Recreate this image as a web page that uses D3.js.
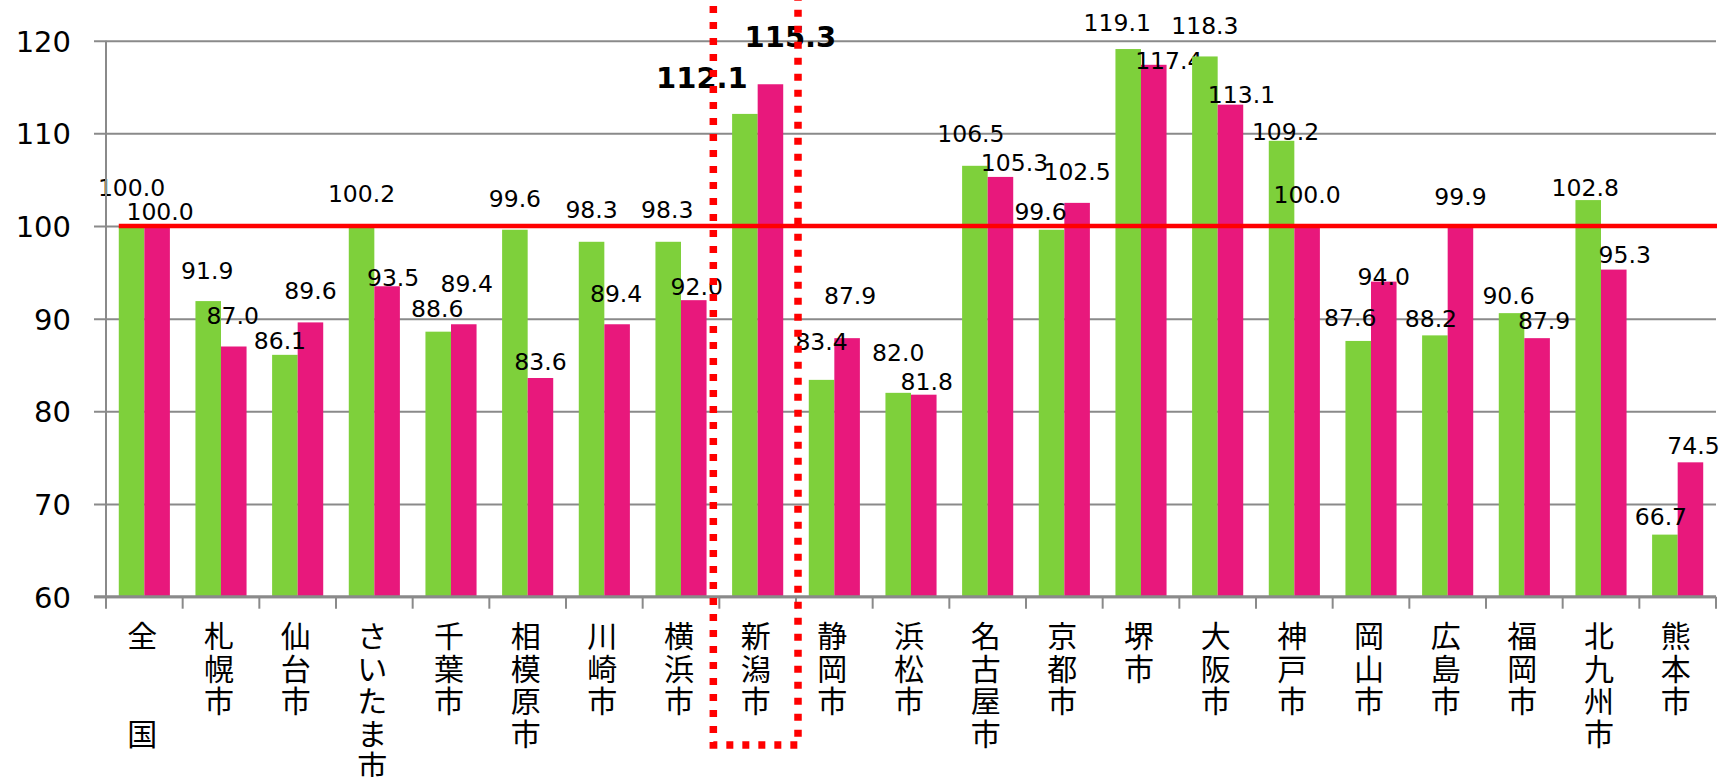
<!DOCTYPE html>
<html>
<head>
<meta charset="utf-8">
<script src="https://cdnjs.cloudflare.com/ajax/libs/d3/7.8.5/d3.min.js"></script>
<style>
body { margin: 0; background: #fff; }
</style>
</head>
<body>
<script>
// categories and values
var cities = ["全　　国","札幌市","仙台市","さいたま市","千葉市","相模原市","川崎市","横浜市","新潟市","静岡市","浜松市",
              "名古屋市","京都市","堺市","大阪市","神戸市","岡山市","広島市","福岡市","北九州市","熊本市"];
var greenVals = [100.0,91.9,86.1,100.2,88.6,99.6,98.3,98.3,112.1,83.4,82.0,106.5,99.6,119.1,118.3,109.2,87.6,88.2,90.6,102.8,66.7];
var pinkVals  = [100.0,87.0,89.6,93.5,89.4,83.6,89.4,92.0,115.3,87.9,81.8,105.3,102.5,117.4,113.1,100.0,94.0,99.9,87.9,95.3,74.5];
var yTicks = [60,70,80,90,100,110,120];
var refValue = 100;
var highlightCity = "新潟市";

// hand placed label nudges (px), as in the original sheet
var liftG  = [38,31,14,31,23,31,32,32,36,38,40,32,18,27,31,9,23,17,18,13,18];
var liftP  = [14,31,32,9,41,16,31,14,48,43,13,14,31,4,10,31,5,30,18,15,17];
var shiftG = [0,-1,-5,0,-1,0,0,-1,-43,0,0,-4,-11,-11,0,4,-8,-4,-3,-3,-4];
var shiftP = [3,-1,0,6,3,0,-1,3,20,3,3,14,0,15,11,0,0,0,7,11,3];

var W = 1729, H = 777;
var plotL = 106, plotR = 1716, plotT = 40.7, plotB = 596.7;
var green = "#7ed03b", pink = "#e8187c", gridCol = "#8a8a8a";
var numFont = "'DejaVu Sans', Verdana, sans-serif";
var jpFont = "'Noto Sans CJK JP', sans-serif";

var svg = d3.select("body").append("svg").attr("width", W).attr("height", H);

var x = d3.scaleBand().domain(cities).range([plotL, plotR]).padding(0);
var sub = d3.scaleBand().domain(["g","p"]).range([0, x.bandwidth()]).paddingInner(0).paddingOuter(0.5);
var y = d3.scaleLinear().domain([60,120]).range([plotB, plotT]);

// gridlines + y labels
var yAxis = svg.append("g").attr("transform", "translate(" + plotL + ",0)")
	.call(d3.axisLeft(y).tickValues(yTicks).tickSizeInner(-(plotR - plotL)).tickSizeOuter(0).tickPadding(35));
yAxis.select(".domain").remove();
yAxis.selectAll(".tick line").attr("x1", -12).attr("stroke", gridCol).attr("stroke-width", 2);
yAxis.selectAll(".tick text").attr("font-family", numFont).attr("font-size", 29).attr("fill", "#000")
	.attr("dy", "0.36em");

// bars
var rows = cities.map(function(c, i){ return {c: c, i: i, g: greenVals[i], p: pinkVals[i]}; });
var grp = svg.append("g").selectAll("g").data(rows).enter().append("g")
	.attr("transform", function(d){ return "translate(" + x(d.c) + ",0)"; });
grp.append("rect")
	.attr("x", sub("g")).attr("width", sub.bandwidth())
	.attr("y", function(d){ return y(d.g); })
	.attr("height", function(d){ return y(60) - y(d.g); })
	.attr("fill", green);
grp.append("rect")
	.attr("x", sub("p")).attr("width", sub.bandwidth())
	.attr("y", function(d){ return y(d.p); })
	.attr("height", function(d){ return y(60) - y(d.p); })
	.attr("fill", pink);

// axes lines
svg.append("line").attr("x1", plotL).attr("x2", plotL).attr("y1", plotT).attr("y2", plotB)
	.attr("stroke", gridCol).attr("stroke-width", 2);
svg.append("line").attr("x1", plotL - 12).attr("x2", plotR).attr("y1", plotB).attr("y2", plotB)
	.attr("stroke", gridCol).attr("stroke-width", 3);
var bounds = cities.map(function(c){ return x(c); }).concat([plotR]);
svg.append("g").selectAll("line").data(bounds).enter().append("line")
	.attr("x1", function(d){ return d; }).attr("x2", function(d){ return d; })
	.attr("y1", plotB).attr("y2", plotB + 12)
	.attr("stroke", gridCol).attr("stroke-width", 2);

// reference line at 100
svg.append("line")
	.attr("x1", x(cities[0]) + sub("g")).attr("x2", plotR + 1)
	.attr("y1", y(refValue)).attr("y2", y(refValue))
	.attr("stroke", "#ff0000").attr("stroke-width", 4.5);

// data labels
function isHi(d){ return d.c === highlightCity; }
grp.append("text")
	.attr("x", function(d){ return sub("g") + sub.bandwidth()/2 + shiftG[d.i]; })
	.attr("y", function(d){ return y(d.g) - liftG[d.i]; })
	.attr("dy", "0.36em").attr("text-anchor", "middle")
	.attr("font-family", numFont)
	.attr("font-size", function(d){ return isHi(d) ? 29 : 23.5; })
	.attr("font-weight", function(d){ return isHi(d) ? "bold" : "normal"; })
	.text(function(d){ return d.g.toFixed(1); });
grp.append("text")
	.attr("x", function(d){ return sub("p") + sub.bandwidth()/2 + shiftP[d.i]; })
	.attr("y", function(d){ return y(d.p) - liftP[d.i]; })
	.attr("dy", "0.36em").attr("text-anchor", "middle")
	.attr("font-family", numFont)
	.attr("font-size", function(d){ return isHi(d) ? 29 : 23.5; })
	.attr("font-weight", function(d){ return isHi(d) ? "bold" : "normal"; })
	.text(function(d){ return d.p.toFixed(1); });

// vertical category labels
var cat = svg.append("g").selectAll("g").data(cities).enter().append("g")
	.attr("transform", function(d){ return "translate(" + (x(d) + x.bandwidth()/2 - 2) + ",0)"; });
cat.selectAll("text").data(function(d){ return Array.from(d); }).enter().append("text")
	.attr("x", 0)
	.attr("y", function(ch, k){ return 636 + k*32.5; })
	.attr("dy", "0.38em")
	.attr("text-anchor", "middle")
	.attr("font-family", jpFont).attr("font-size", 30).attr("fill", "#000")
	.text(function(ch){ return ch; });

// dotted frame round the highlighted city
var hx0 = x(highlightCity) - 6, hx1 = x(highlightCity) + x.bandwidth() + 2;
svg.append("path")
	.attr("d", "M" + hx0 + ",-10 L" + hx0 + ",745 L" + hx1 + ",745 L" + hx1 + ",-10")
	.attr("fill", "none").attr("stroke", "#ff0000").attr("stroke-width", 7.5)
	.attr("stroke-dasharray", "7,9");
</script>
</body>
</html>
